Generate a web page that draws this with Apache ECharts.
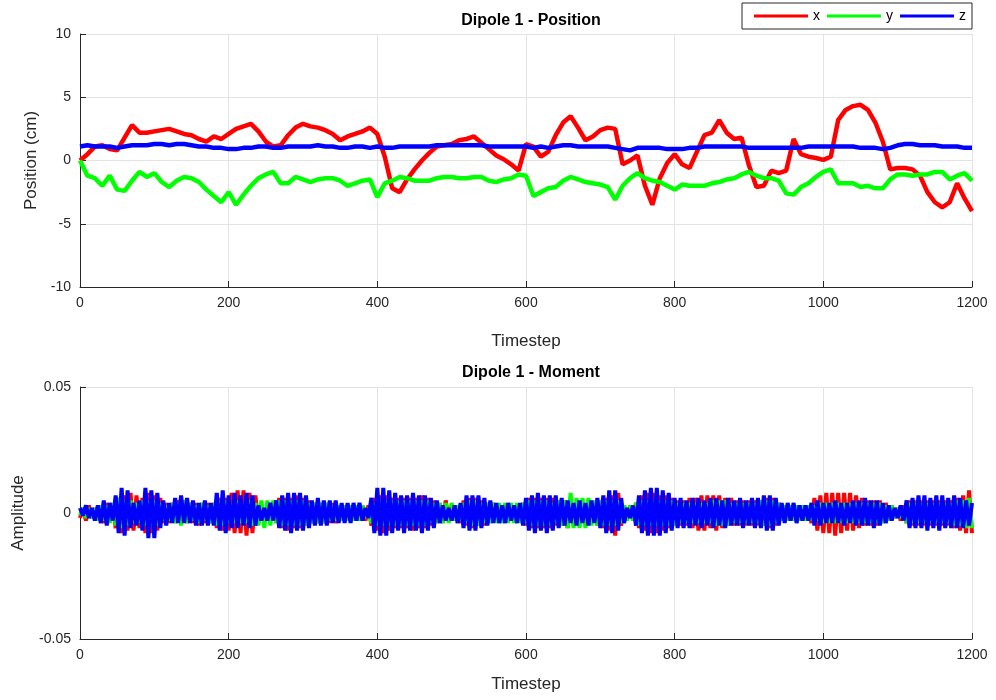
<!DOCTYPE html>
<html>
<head>
<meta charset="utf-8">
<title>Dipole 1</title>
<script src="https://cdn.jsdelivr.net/npm/echarts@6/dist/echarts.min.js"></script>
<style>
  html, body { margin: 0; padding: 0; background: #fff; }
  #chart { width: 996px; height: 700px; }
</style>
</head>
<body>
<div id="chart"></div>
<script>
// position samples every 10 timesteps (cm)
const posStep = 10;
const posX = [0.0,0.5,1.1,1.2,0.9,0.8,1.8,2.8,2.2,2.2,
  2.3,2.4,2.5,2.3,2.1,2.0,1.7,1.5,1.9,1.7,
  2.1,2.5,2.7,2.9,2.3,1.5,1.1,1.2,2.0,2.6,
  2.9,2.7,2.6,2.4,2.1,1.6,1.9,2.1,2.3,2.6,
  2.1,0.3,-2.2,-2.5,-1.5,-0.7,0.0,0.6,1.1,1.2,
  1.3,1.6,1.7,1.9,1.4,0.9,0.4,0.1,-0.3,-0.8,
  1.3,1.1,0.3,0.7,2.0,3.0,3.5,2.6,1.6,1.9,
  2.4,2.6,2.5,-0.3,0.0,0.4,-2.0,-3.5,-1.4,-0.2,
  0.5,-0.3,-0.6,0.7,2.0,2.2,3.2,2.2,1.7,1.8,
  -0.4,-2.1,-2.0,-0.8,-1.0,-0.8,1.7,0.5,0.3,0.2,
  0.05,0.3,3.2,4.0,4.3,4.4,4.0,3.0,1.5,-0.7,
  -0.6,-0.6,-0.7,-1.2,-2.5,-3.3,-3.7,-3.3,-1.8,-3.0,
  -4.0];
const posY = [0.0,-1.2,-1.4,-2.0,-1.2,-2.3,-2.4,-1.6,-0.9,-1.3,
  -1.0,-1.7,-2.1,-1.6,-1.3,-1.4,-1.7,-2.3,-2.8,-3.3,
  -2.5,-3.5,-2.7,-2.0,-1.4,-1.1,-0.9,-1.8,-1.8,-1.3,
  -1.5,-1.7,-1.5,-1.4,-1.4,-1.6,-2.0,-1.8,-1.6,-1.5,
  -2.9,-1.8,-1.6,-1.3,-1.4,-1.6,-1.6,-1.6,-1.4,-1.3,
  -1.3,-1.4,-1.4,-1.3,-1.3,-1.6,-1.7,-1.5,-1.4,-1.1,
  -1.2,-2.8,-2.5,-2.2,-2.1,-1.6,-1.3,-1.5,-1.7,-1.8,
  -1.9,-2.1,-3.1,-2.0,-1.4,-1.0,-1.4,-1.6,-1.7,-2.0,
  -2.3,-1.9,-2.0,-2.0,-2.0,-1.8,-1.7,-1.5,-1.4,-1.1,
  -0.9,-1.2,-1.4,-1.4,-1.6,-2.6,-2.7,-2.1,-1.8,-1.3,
  -0.9,-0.7,-1.8,-1.8,-1.8,-2.1,-2.0,-2.2,-2.2,-1.5,
  -1.1,-1.1,-1.2,-1.1,-1.1,-0.9,-0.9,-1.5,-1.2,-1.0,
  -1.6];
const posZ = [1.1,1.2,1.1,1.1,1.1,1.0,1.1,1.2,1.2,1.2,
  1.3,1.3,1.2,1.3,1.3,1.2,1.1,1.1,1.0,1.0,
  0.9,0.9,1.0,1.0,1.1,1.1,1.0,1.0,1.1,1.1,
  1.1,1.1,1.2,1.1,1.1,1.0,1.0,1.1,1.1,1.0,
  1.1,1.0,1.0,1.1,1.1,1.1,1.1,1.1,1.2,1.2,
  1.2,1.2,1.2,1.2,1.2,1.1,1.1,1.1,1.1,1.1,
  1.1,1.0,1.1,1.0,1.1,1.2,1.2,1.1,1.1,1.1,
  1.1,1.1,1.0,0.9,0.8,1.0,1.0,1.0,1.0,0.9,
  0.9,0.9,1.0,1.0,1.1,1.1,1.1,1.1,1.1,1.1,
  1.0,1.0,1.0,1.0,1.0,1.0,1.0,1.0,1.1,1.1,
  1.1,1.1,1.1,1.1,1.1,1.0,1.0,1.0,0.9,1.0,
  1.2,1.3,1.3,1.2,1.2,1.2,1.1,1.1,1.1,1.0,
  1.0];

// moment samples every 4 timesteps, in units of 1e-3
const momStep = 4;
const momX = [-2,2,-3,3,-2,2, -3,3,-4,4,-3,3, -6,6,-8,7,-7,8, -7,7,-6,6,
  -8,8,-8,7,-7,6, -4,4,-4,4, -4,5,-4,5,-4,4, -4,4,-5,4,-4,4,-4,4,
  -6,6,-7,6,-7, 8,-8,9,-8,9,-9,8,-8,7, -4,3,-3,3,-3,4,-4,
  6,-6,6,-7,6,-6,7,-6,6,-5,5, -4,4,-4,4,-4,4,-4,4,-4,3,
  -3,3,-3,3,-3,3,-3,3, -3,3, -5,6,-7,7,-8,7,-7,6,-6,6,
  -6,6,-6,6,-7,6,-6,7,-6,6,-5,5,-4,4, -4,5,-3,3,-3,3,-4,
  5,-5,6,-6,6,-5,5,-5,4,-4,4, -3,3,-3,3,-3,3,-3,3,-3,4,-5,
  6,-6,6,-6,6,-6,6,-6,6,-5,5,-5,5, -6,6,-5,4,-4,4,-4,4,-4,4,-5,5,-6,
  6,-7,7,-9,8,-5,3, -2,2,-3, 4,-6,7,-7,8,-8,8,-8,7,-7,7,-6,6,-5,
  5,-5,5,-5,6,-6,6,-7,7,-7,7,-6,7,-7,7,-6,6,-5,6,-5,5,-5,5,-5,5,-5,5,-5,5,-5,6,
  -6,6,-5,4, -3,3,-3,3,-3,3,-3,3,-3,3,-4,
  6,-7,7,-8,8,-8,8,-9,8,-8,8,-7,8,-7,7,-6, 6,-5,5,-5,5,-5,5,-4,4,-3,3,
  -2,2,-3,3, -4,5,-5,5,-5,5,-5,5,-5,5,-5,5,-5,5,-5,5,-6,6,-7,7,-8,9,-8];
const momY = [-1,2,-2,2,-2,2, -3,3,-3,3,-4,4, -5,6,-6,5,-5,5, -4,4,-4,5,
  -5,5,-5,5,-5,4, -3,3,-3,4, -4,4,-5,5,-4,4, -3,3,-4,4,-3,3,-4,4,
  -5,5,-5,5,-4, 4,-4,5,-4,4,-4,5,-5,4, -5,5,-6,5,-5,5,-4,
  5,-5,5,-5,5,-5,5,-5,5,-5,4, -4,4,-4,4,-4,4,-3,3,-3,3,
  -3,3,-3,3,-3,3,-3,3, -2,2, -4,4,-5,5,-5,5,-5,5,-5,5,
  -5,5,-5,5,-5,5,-5,5,-5,5,-4,4,-4,4, -4,4,-4,4,-3,3,-3,
  4,-4,5,-5,5,-5,4,-4,4,-4,4, -4,4,-4,4,-4,4,-4,4,-4,4,-4,
  5,-5,5,-5,5,-5,5,-5,4,-4,5,-5,5, -6,8,-6,6,-6,6,-6,6,-5,5,-5,5,-5,
  5,-5,5,-5,5,-4,3, -3,3,-3, 4,-5,5,-5,5,-5,5,-5,5,-5,5,-5,5,-5,
  4,-4,4,-4,4,-4,4,-4,4,-4,4,-4,5,-5,5,-5,5,-5,4,-4,4,-4,4,-4,4,-4,4,-4,5,-5,5,
  -5,5,-4,4, -3,3,-3,3,-3,3,-3,3,-3,3,-3,
  3,-3,4,-4,4,-4,4,-4,4,-4,4,-4,4,-4,4,-4, 4,-4,4,-4,4,-4,4,-4,3,-3,3,
  -2,2,-2,2, -4,4,-4,4,-4,4,-4,4,-4,4,-4,4,-4,4,-4,4,-5,5,-5,5,-6,6,-6];
const momZ = [2,-1,3,-2,2,-3, 3,-4,5,-5,4,-3, 7,-8,10,-9,9,-6, 4,-5,5,
  -7,10,-10,9,-10,8,-6, 5,-5,4,-4, 6,-4,7,-4,6,-4, 5,-5,4,-5,5,-5,4,-5,
  8,-7,9,-8,7, -6,8,-6,7,-5,8,-6,7,-5, 3,-3,2,-3,4,-3,5,
  -6,7,-7,8,-8,8,-7,8,-7,7,-6, 5,-5,6,-5,5,-5,5,-4,5,-4,
  4,-4,4,-4,4,-3,4,-3, 2,-2, 6,-8,10,-9,10,-9,9,-8,8,-7,
  7,-8,7,-7,8,-7,7,-8,7,-7,6,-6,5,-4, 3,-3,2,-3,3,-4,4,
  -6,7,-7,7,-7,7,-6,6,-5,5,-4, 4,-4,3,-4,4,-3,3,-4,4,-5,6,
  -7,7,-8,8,-7,7,-8,7,-7,7,-6,6,-5, 5,-4,4,-5,5,-4,4,-5,5,-4,6,-6,7,
  -8,9,-8,9,-7,6,-4, 2,-2,3, -5,7,-8,9,-9,10,-9,10,-9,9,-8,8,-7,6,
  -6,6,-6,5,-6,6,-5,6,-6,5,-5,6,-6,6,-5,5,-6,6,-5,5,-5,6,-6,5,-5,6,-6,6,-6,7,-7,
  7,-7,6,-5, 4,-4,4,-3,4,-4,3,-3,3,-3,4,
  -5,5,-5,4,-4,4,-4,5,-4,4,-5,4,-4,5,-5,5, -5,6,-5,5,-6,5,-5,4,-4,3,-3,
  2,-2,3,-3, 5,-6,6,-6,7,-6,7,-7,6,-6,7,-7,7,-6,6,-6,7,-6,6,-6,5,-5,4];

const seriesNames = ['x', 'y', 'z'];
const seriesColors = ['#ff0000', '#00ff00', '#0000ff'];

const font = "'Liberation Sans', Arial, Helvetica, sans-serif";
const ink = '#262626';

function pairs(values, step, scale) {
  return values.map((v, i) => [i * step, v * scale]);
}

const chart = echarts.init(document.getElementById('chart'));

function xAxisFor(gridIndex, nameGap) {
  return {
    gridIndex: gridIndex,
    type: 'value',
    min: 0, max: 1200, interval: 200,
    name: 'Timestep',
    nameLocation: 'middle',
    nameGap: nameGap,
    nameTextStyle: { color: ink, fontSize: 17, fontFamily: font },
    axisLine: { onZero: false, lineStyle: { color: ink, width: 1 } },
    axisTick: { inside: true, length: 6, lineStyle: { color: ink } },
    axisLabel: { color: ink, fontSize: 14, fontFamily: font, margin: 9,
      formatter: v => String(v) },
    splitLine: { show: true, lineStyle: { color: '#e3e3e3' } }
  };
}

function yAxisFor(gridIndex, opts) {
  return Object.assign({
    gridIndex: gridIndex,
    type: 'value',
    nameLocation: 'middle',
    nameTextStyle: { color: ink, fontSize: 17, fontFamily: font },
    axisLine: { show: true, onZero: false, lineStyle: { color: ink, width: 1 } },
    axisTick: { show: true, inside: true, length: 6, lineStyle: { color: ink } },
    axisLabel: { color: ink, fontSize: 14, fontFamily: font, margin: 9 },
    splitLine: { show: true, lineStyle: { color: '#e3e3e3' } }
  }, opts);
}

const posData = [posX, posY, posZ];
const momData = [momX, momY, momZ];

const series = [];
seriesNames.forEach((n, k) => {
  series.push({
    name: n, type: 'line', xAxisIndex: 0, yAxisIndex: 0,
    data: pairs(posData[k], posStep, 1),
    showSymbol: false, symbol: 'none',
    lineStyle: { color: seriesColors[k], width: 4.5 },
    itemStyle: { color: seriesColors[k] }
  });
});
seriesNames.forEach((n, k) => {
  series.push({
    name: n, type: 'line', xAxisIndex: 1, yAxisIndex: 1,
    data: pairs(momData[k], momStep, 0.001),
    showSymbol: false, symbol: 'none',
    lineStyle: { color: seriesColors[k], width: 4 },
    itemStyle: { color: seriesColors[k] }
  });
});

const option = {
  animation: false,
  backgroundColor: '#ffffff',
  title: [
    { text: 'Dipole 1 - Position', left: 526, top: 8, textAlign: 'center',
      textStyle: { color: '#000', fontSize: 16, fontWeight: 'bold', fontFamily: font } },
    { text: 'Dipole 1 - Moment', left: 526, top: 360, textAlign: 'center',
      textStyle: { color: '#000', fontSize: 16, fontWeight: 'bold', fontFamily: font } }
  ],
  legend: {
    data: seriesNames,
    right: 24, top: 3,
    orient: 'horizontal',
    icon: 'rect',
    itemWidth: 54, itemHeight: 3, itemGap: 7,
    padding: [6, 6, 6, 12],
    borderColor: ink, borderWidth: 1,
    backgroundColor: '#fff',
    textStyle: { color: '#000', fontSize: 14, fontFamily: font }
  },
  grid: [
    { left: 80, right: 24, top: 34, height: 253 },
    { left: 80, right: 24, top: 387, height: 252 }
  ],
  xAxis: [xAxisFor(0, 46), xAxisFor(1, 37)],
  yAxis: [
    yAxisFor(0, { min: -10, max: 10, interval: 5, name: 'Position (cm)', nameGap: 34 }),
    yAxisFor(1, { min: -0.05, max: 0.05, interval: 0.05, name: 'Amplitude', nameGap: 53 })
  ],
  series: series
};

chart.setOption(option);
</script>
</body>
</html>
